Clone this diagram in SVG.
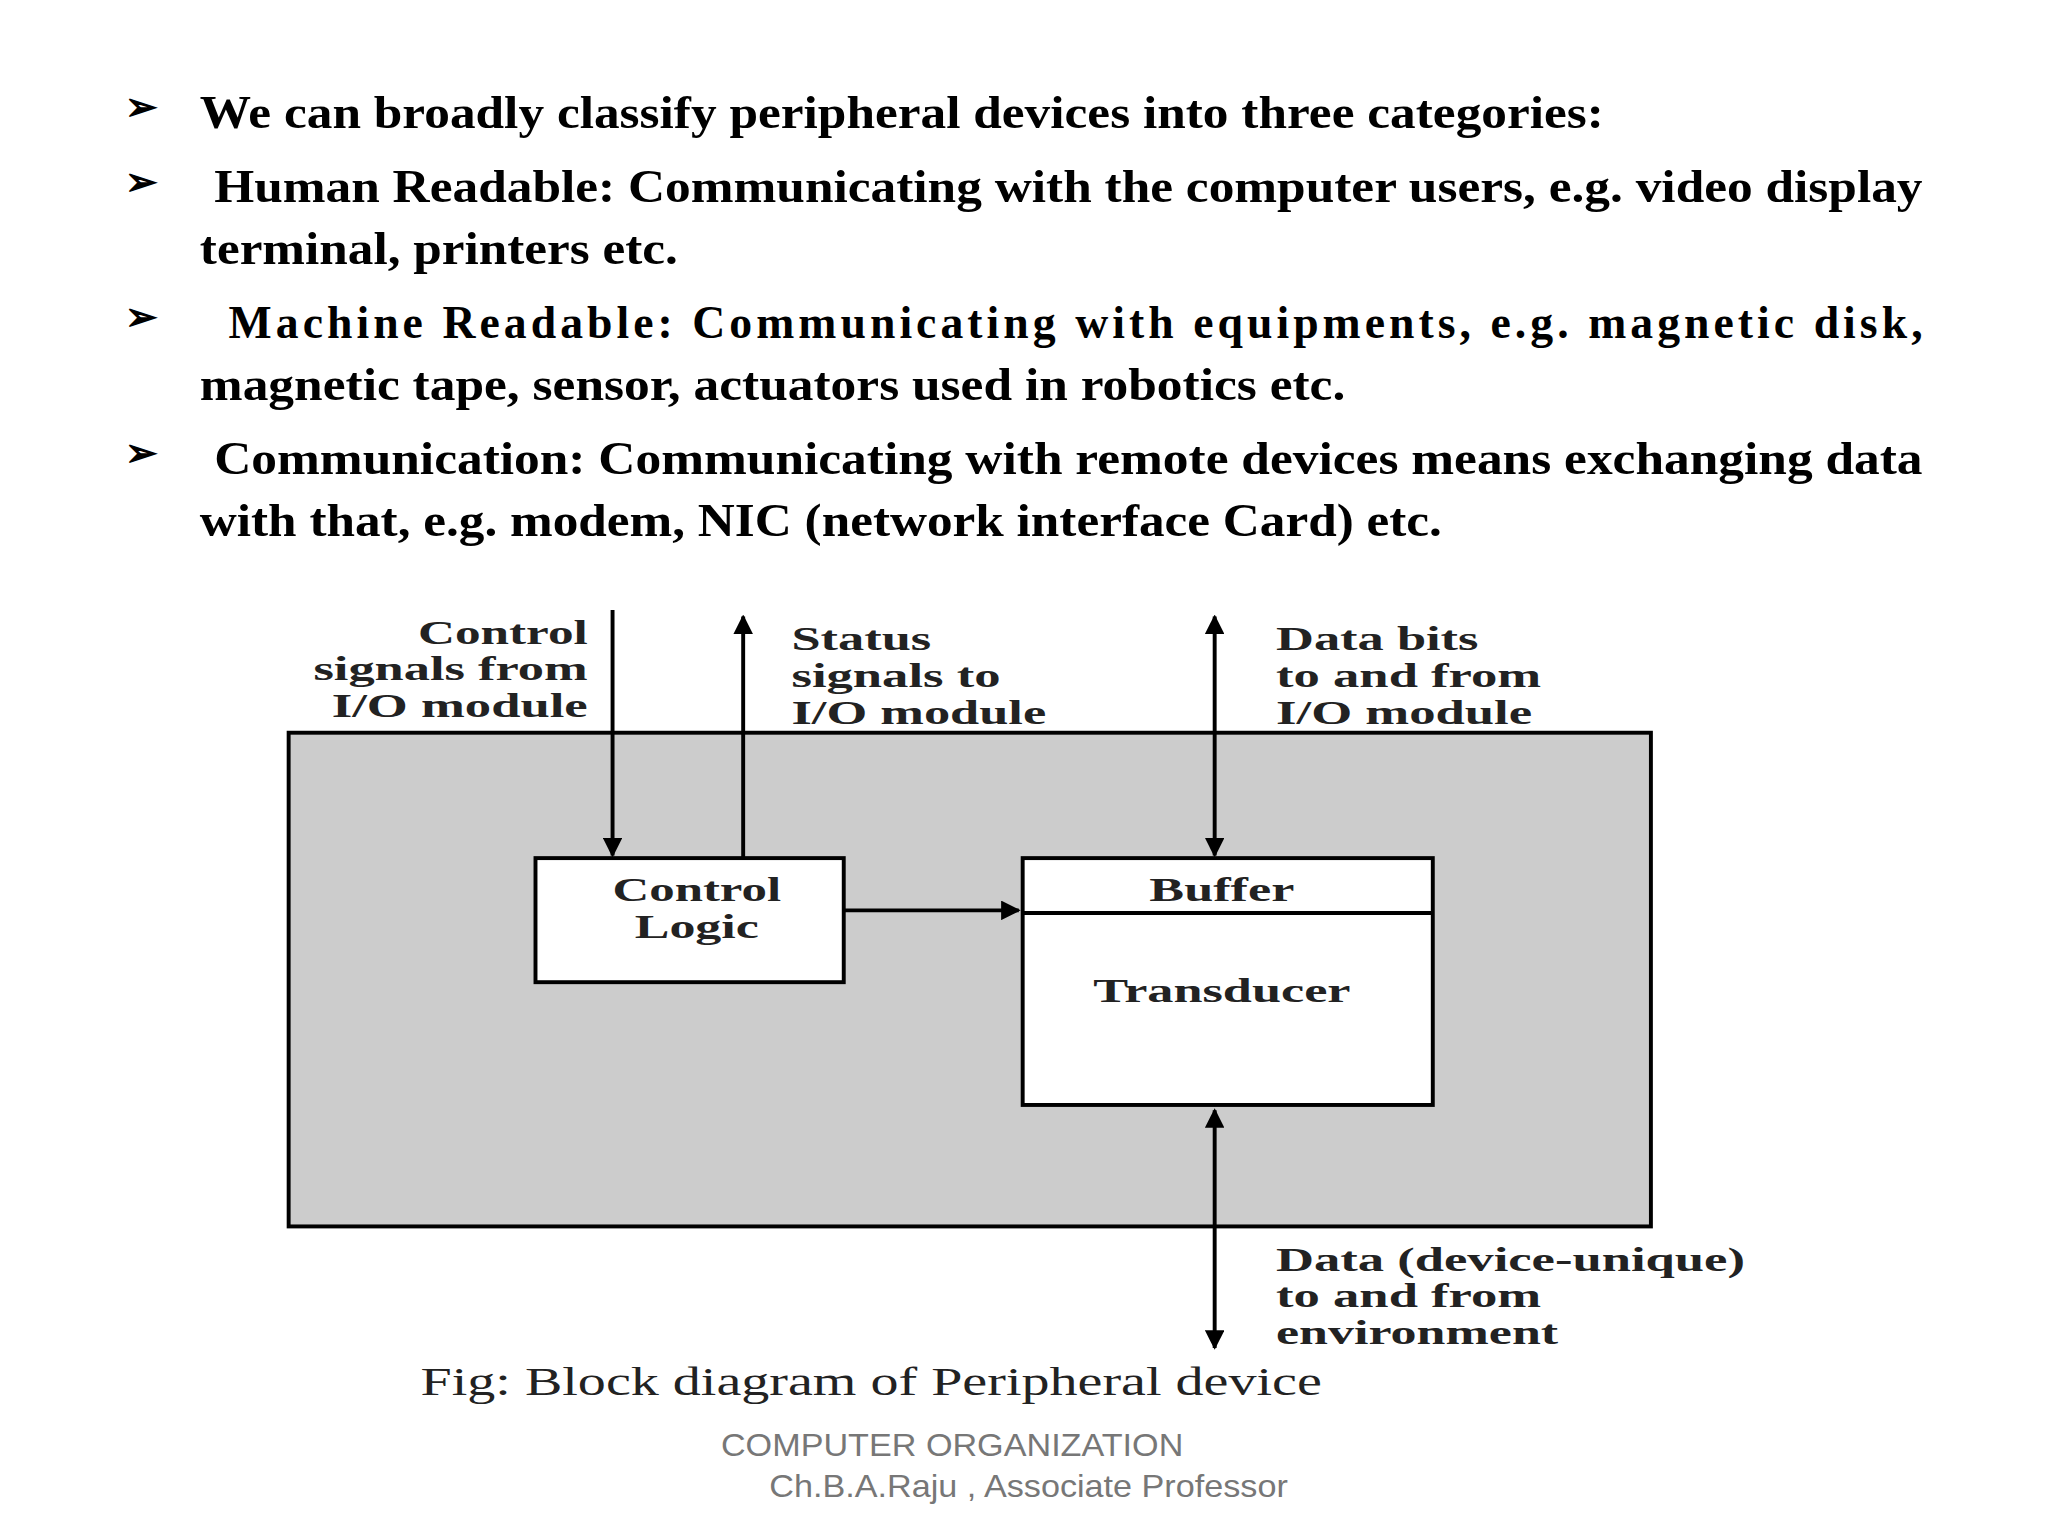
<svg xmlns="http://www.w3.org/2000/svg" width="2048" height="1536" viewBox="0 0 2048 1536">
<style>
.b{font-family:"Liberation Serif",serif;font-weight:bold;font-size:35px;fill:#000}
.d{font-family:"Liberation Serif",serif;font-weight:bold;font-size:25px;fill:#222}
.ln{stroke:#000;stroke-width:3;fill:none}
.f{font-family:"Liberation Sans",sans-serif;font-size:24px;fill:#777}
</style>
<defs><marker id="ah" viewBox="0 0 10 10" refX="9" refY="5" markerWidth="5" markerHeight="5" orient="auto-start-reverse"><path d="M0,0L10,5L0,10z" fill="#000"/></marker></defs>
<rect width="2048" height="1536" fill="#fff"/>
<g transform="scale(1.3061)">
<g id="text">
<g class="b">
<text x="96" y="92" font-size="30">➢</text><text x="153" y="98" textLength="1075" lengthAdjust="spacingAndGlyphs">We can broadly classify peripheral devices into three categories:</text>
<text x="96" y="149" font-size="30">➢</text><text x="164" y="155" textLength="1308" lengthAdjust="spacingAndGlyphs">Human Readable: Communicating with the computer users, e.g. video display</text>
<text x="153" y="202" textLength="366" lengthAdjust="spacingAndGlyphs">terminal, printers etc.</text>
<text x="96" y="253" font-size="30">➢</text><text x="175" y="259" textLength="1297" lengthAdjust="spacing">Machine Readable: Communicating with equipments, e.g. magnetic disk,</text>
<text x="153" y="306" textLength="877" lengthAdjust="spacingAndGlyphs">magnetic tape, sensor, actuators used in robotics etc.</text>
<text x="96" y="357" font-size="30">➢</text><text x="164" y="363" textLength="1308" lengthAdjust="spacingAndGlyphs">Communication: Communicating with remote devices means exchanging data</text>
<text x="153" y="410" textLength="951" lengthAdjust="spacingAndGlyphs">with that, e.g. modem, NIC (network interface Card) etc.</text>
</g>
</g>
<g id="device"><rect x="221" y="561" width="1043" height="378" fill="#cccccc" stroke="#000" stroke-width="3"/></g>
<g id="control"><rect x="410" y="657" width="236" height="95" fill="#fff" stroke="#000" stroke-width="3"/>
<text class="d" x="469" y="690" textLength="129" lengthAdjust="spacingAndGlyphs">Control</text><text class="d" x="486" y="718" textLength="95" lengthAdjust="spacingAndGlyphs">Logic</text></g>
<g id="buffer"><rect x="783" y="657" width="314" height="189" fill="#fff" stroke="#000" stroke-width="3"/>
<line class="ln" x1="783" y1="699" x2="1097" y2="699"/>
<text class="d" x="880" y="690" textLength="111" lengthAdjust="spacingAndGlyphs">Buffer</text><text class="d" x="837" y="767" textLength="197" lengthAdjust="spacingAndGlyphs">Transducer</text></g>
<g id="connectors">
<line class="ln" x1="469" y1="467" x2="469" y2="655" marker-end="url(#ah)"/>
<line class="ln" x1="569" y1="657" x2="569" y2="472" marker-end="url(#ah)"/>
<line class="ln" x1="930" y1="472" x2="930" y2="655" marker-start="url(#ah)" marker-end="url(#ah)"/>
<line class="ln" x1="930" y1="850" x2="930" y2="1032" marker-start="url(#ah)" marker-end="url(#ah)"/>
<line class="ln" x1="646" y1="697" x2="780" y2="697" marker-end="url(#ah)"/>
</g>
<g id="labels" class="d" lengthAdjust="spacingAndGlyphs">
<text x="320" y="493" textLength="130" lengthAdjust="spacingAndGlyphs">Control</text><text x="240" y="521" textLength="210" lengthAdjust="spacingAndGlyphs">signals from</text><text x="254" y="549" textLength="196" lengthAdjust="spacingAndGlyphs">I/O module</text>
<text x="606" y="498" textLength="107" lengthAdjust="spacingAndGlyphs">Status</text><text x="606" y="526" textLength="160" lengthAdjust="spacingAndGlyphs">signals to</text><text x="606" y="554" textLength="195" lengthAdjust="spacingAndGlyphs">I/O module</text>
<text x="977" y="498" textLength="155" lengthAdjust="spacingAndGlyphs">Data bits</text><text x="977" y="526" textLength="203" lengthAdjust="spacingAndGlyphs">to and from</text><text x="977" y="554" textLength="196" lengthAdjust="spacingAndGlyphs">I/O module</text>
<text x="977" y="973" textLength="359" lengthAdjust="spacingAndGlyphs">Data (device-unique)</text><text x="977" y="1001" textLength="203" lengthAdjust="spacingAndGlyphs">to and from</text><text x="977" y="1029" textLength="216" lengthAdjust="spacingAndGlyphs">environment</text>
</g>
<text x="322" y="1068" font-family="Liberation Serif,serif" font-size="31" fill="#222" textLength="690" lengthAdjust="spacingAndGlyphs">Fig: Block diagram of Peripheral device</text>
<text class="f" x="552" y="1115" textLength="354" lengthAdjust="spacingAndGlyphs">COMPUTER ORGANIZATION</text>
<text class="f" x="589" y="1146" textLength="397" lengthAdjust="spacingAndGlyphs">Ch.B.A.Raju , Associate Professor</text>
</g>
</svg>
